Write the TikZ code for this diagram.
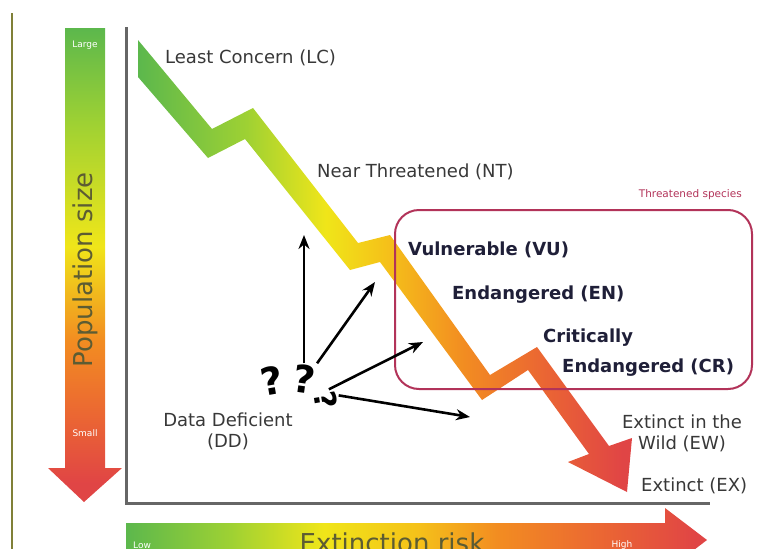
\documentclass[tikz,border=0pt]{standalone}
\usepackage{fontspec}
\setmainfont{DejaVu Sans}
\usepackage{tikz}
\usetikzlibrary{arrows,arrows.meta,positioning}
\definecolor{lcgreen}{rgb}{0.36,0.72,0.30}
\definecolor{ygreen}{rgb}{0.62,0.82,0.20}
\definecolor{vuyellow}{rgb}{0.94,0.90,0.10}
\definecolor{amber}{rgb}{0.96,0.76,0.10}
\definecolor{enorange}{rgb}{0.95,0.55,0.13}
\definecolor{crorange}{rgb}{0.92,0.40,0.20}
\definecolor{exred}{rgb}{0.88,0.27,0.27}
\definecolor{olive}{rgb}{0.50,0.50,0.22}
\definecolor{titleolive}{rgb}{0.36,0.36,0.20}
\definecolor{textgray}{rgb}{0.22,0.22,0.22}
\definecolor{boldnavy}{rgb}{0.12,0.12,0.22}
\definecolor{threatred}{rgb}{0.70,0.20,0.35}
\pgfdeclarehorizontalshading{bandshade}{100bp}{color(0bp)=(lcgreen); color(25bp)=(lcgreen);
  color(36bp)=(ygreen); color(44bp)=(vuyellow); color(50bp)=(amber);
  color(58bp)=(enorange); color(66bp)=(crorange); color(74bp)=(exred); color(100bp)=(exred)}
\pgfdeclarehorizontalshading{riskshade}{100bp}{color(0bp)=(lcgreen); color(25bp)=(lcgreen);
  color(34bp)=(ygreen); color(42bp)=(vuyellow); color(50bp)=(amber);
  color(57bp)=(enorange); color(66bp)=(crorange); color(74bp)=(exred); color(100bp)=(exred)}
\pgfdeclareverticalshading{popshade}{100bp}{color(0bp)=(exred); color(27bp)=(exred);
  color(34bp)=(crorange); color(42bp)=(enorange); color(52bp)=(vuyellow);
  color(65bp)=(ygreen); color(75bp)=(lcgreen); color(100bp)=(lcgreen)}
\tikzset{
	status/.style={font=\fontsize{18}{21}\selectfont, text=textgray, inner sep=0pt},
	threat/.style={font=\fontsize{18}{21}\selectfont\bfseries, text=boldnavy, inner sep=0pt},
	tinywhite/.style={font=\fontsize{9}{10}\selectfont, text=white, inner sep=0pt},
	axistitle/.style={font=\fontsize{26}{28}\selectfont, text=titleolive, inner sep=0pt},
	threatbox/.style={draw=threatred, line width=2pt, rounded corners=24pt},
	qmark/.style={font=\fontsize{38}{38}\selectfont\bfseries, text=black, inner sep=0pt},
	ddarrow/.style={line width=2.6pt, -{Stealth[length=14pt,width=11pt]}},
	axisline/.style={draw=black!60, line width=3pt}
}
\begin{document}
\begin{tikzpicture}[x=1pt,y=1pt]
	\useasboundingbox (0,0) rectangle (758,-549);
	\draw[olive, line width=2pt] (12,-13) -- (12,-549);
	\shade[shading=popshade] (65,-28) -- (105,-28) -- (105,-468) -- (122,-468)
		-- (84,-502) -- (48,-468) -- (65,-468) -- cycle;
	\node[tinywhite] (large) at (85,-45) {Large};
	\node[tinywhite] (small) at (85,-433) {Small};
	\node[axistitle, rotate=90] (pop) at (85,-270) {Population size};
	\shade[shading=riskshade] (126,-523) -- (665,-523) -- (665,-508) -- (707,-540)
		-- (665,-572) -- (665,-557) -- (126,-557) -- cycle;
	\node[tinywhite] (low) at (142,-545) {Low};
	\node[tinywhite] (high) at (622,-545) {High};
	\node[axistitle] (risk) at (392,-543) {Extinction risk};
	\draw[axisline] (126,-27) |- (710,-503);
	\shade[shading=bandshade] (138,-40) -- (212,-129) -- (253,-108) -- (358,-243)
		-- (390,-235) -- (490,-375) -- (537,-347) -- (609,-446) -- (632,-438)
		-- (627,-492) -- (568,-462) -- (589,-454) -- (528,-370) -- (482,-400)
		-- (380,-262) -- (350,-270) -- (245,-139) -- (208,-158) -- (138,-77) -- cycle;
	\node[threatbox, minimum width=357pt, minimum height=179pt] (box) at (573.5,-299.5) {};
	\node[font=\fontsize{10.5}{12}\selectfont, text=threatred, inner sep=0pt,
		anchor=base east] (boxtitle) at (742,-197) {Threatened species};
	\node[status, anchor=west] (LC) at (165,-58) {Least Concern (LC)};
	\node[status, anchor=west] (NT) at (317,-172) {Near Threatened (NT)};
	\node[threat, anchor=west] (VU) at (408,-250) {Vulnerable (VU)};
	\node[threat, anchor=west] (EN) at (452,-295) {Endangered (EN)};
	\node[threat, anchor=west] (CR1) at (543,-338) {Critically};
	\node[threat, anchor=west] (CR2) at (562,-368) {Endangered (CR)};
	\node[status, align=center] (EW) at (682,-433) {Extinct in the\\Wild (EW)};
	\node[status, anchor=west] (EX) at (641,-486) {Extinct (EX)};
	\node[status, align=center] (DD) at (228,-431) {Data Deficient\\(DD)};
	\node[qmark] (q1) at (272,-381) {\rotatebox{10}{?}};
	\node[qmark] (q2) at (304,-379) {\rotatebox{-8}{?}};
	\node[qmark, font=\fontsize{30}{30}\selectfont\bfseries] (q3) at (326,-400) {\rotatebox{-80}{?}};
	\coordinate (t1) at (304,-235);
	\coordinate (t2) at (375,-282);
	\coordinate (t3) at (423,-342);
	\coordinate (t4) at (470,-417);
	\draw[ddarrow] (q2.north) -- (t1);
	\draw[ddarrow] (q2.north east) -- (t2);
	\draw[ddarrow] (q3.75) -- (t3);
	\draw[ddarrow] (q3.20) -- (t4);
\end{tikzpicture}
\end{document}
